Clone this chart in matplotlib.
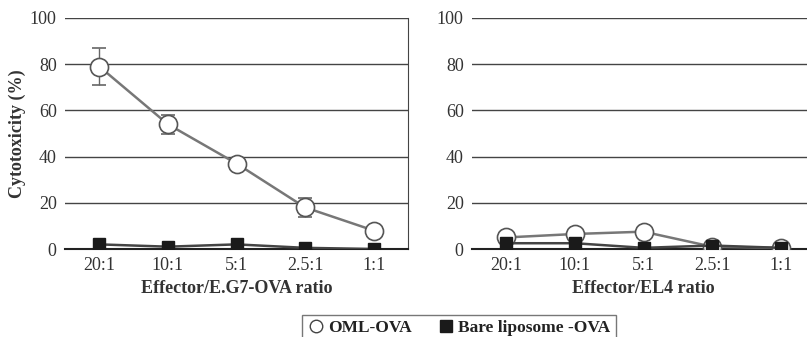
import matplotlib
matplotlib.use("Agg")
import matplotlib.pyplot as plt
from matplotlib.lines import Line2D

plt.rcParams['font.family'] = ['Liberation Serif', 'DejaVu Serif']

ratios = ["20:1", "10:1", "5:1", "2.5:1", "1:1"]
left_oml = [79, 54, 37, 18, 8]
left_oml_err = [8, 4, 1.5, 4, 1]
left_bare = [2, 1, 2, 0.5, 0]
right_oml = [5, 6.5, 7.5, 1, 0.5]
right_bare = [2.5, 2.5, 0.5, 1.5, 0.5]
yticks = [0, 20, 40, 60, 80, 100]

W, H = 807, 337
fig = plt.figure(figsize=(W/100, H/100), dpi=100)

def panel(rect, oml, bare, xlabel, err=None, ylabel=None, right_spine=True):
    ax = fig.add_axes(rect)
    x = list(range(len(ratios)))
    ax.plot(x, bare, color='#444444', lw=1.8, marker='s', ms=9, mfc='#1a1a1a', mec='#1a1a1a', zorder=5)
    if err is not None:
        ax.errorbar(x, oml, yerr=err, color='#777777', lw=1.8, marker='o', ms=13,
                    mfc='white', mec='#555555', mew=1.2, capsize=5, ecolor='#666666', elinewidth=1, zorder=4)
    else:
        ax.plot(x, oml, color='#777777', lw=1.8, marker='o', ms=13, mfc='white', mec='#555555', mew=1.2, zorder=4)
    ax.set_xlim(-0.5, 4.5)
    ax.set_ylim(0, 100)
    ax.set_yticks(yticks)
    ax.set_yticklabels([str(t) for t in yticks], fontsize=13, color='#333333')
    ax.set_xticks(x)
    ax.set_xticklabels(ratios, fontsize=13, color='#333333')
    ax.tick_params(length=0, pad=6)
    ax.yaxis.grid(True, color='#444444', lw=1)
    ax.set_axisbelow(True)
    for s in ['top', 'left']:
        ax.spines[s].set_visible(False)
    ax.spines['bottom'].set_color('#222222')
    ax.spines['bottom'].set_linewidth(1.5)
    ax.spines['right'].set_visible(right_spine)
    ax.spines['right'].set_color('#444444')
    ax.set_xlabel(xlabel, fontsize=13, fontweight='bold', color='#333333', labelpad=4)
    if ylabel:
        ax.set_ylabel(ylabel, fontsize=13, fontweight='bold', color='#333333', labelpad=3)
    return ax

ax1 = panel([65/W, 1-249/H, 343/W, 231/H], left_oml, left_bare,
            "Effector/E.G7-OVA ratio", err=left_oml_err, ylabel="Cytotoxicity (%)")
ax2 = panel([472/W, 1-249/H, 343/W, 231/H], right_oml, right_bare,
            "Effector/EL4 ratio", right_spine=False)

handles = [Line2D([], [], ls='none', marker='o', ms=9, mfc='white', mec='#444444'),
           Line2D([], [], ls='none', marker='s', ms=8, mfc='#1a1a1a', mec='#1a1a1a')]
leg = fig.legend(handles, ["OML-OVA", "Bare liposome -OVA"], loc='upper left',
                 bbox_to_anchor=(293/W, 1-306/H), ncol=2, frameon=True, fancybox=False,
                 prop={'weight': 'bold', 'size': 12.5}, handletextpad=0.2, columnspacing=1.5,
                 borderpad=0.3, handlelength=1.0)
leg.get_frame().set_edgecolor('#555555')
leg.get_frame().set_linewidth(1)
for t in leg.get_texts():
    t.set_color('#222222')

fig.savefig("out.png", dpi=100)
